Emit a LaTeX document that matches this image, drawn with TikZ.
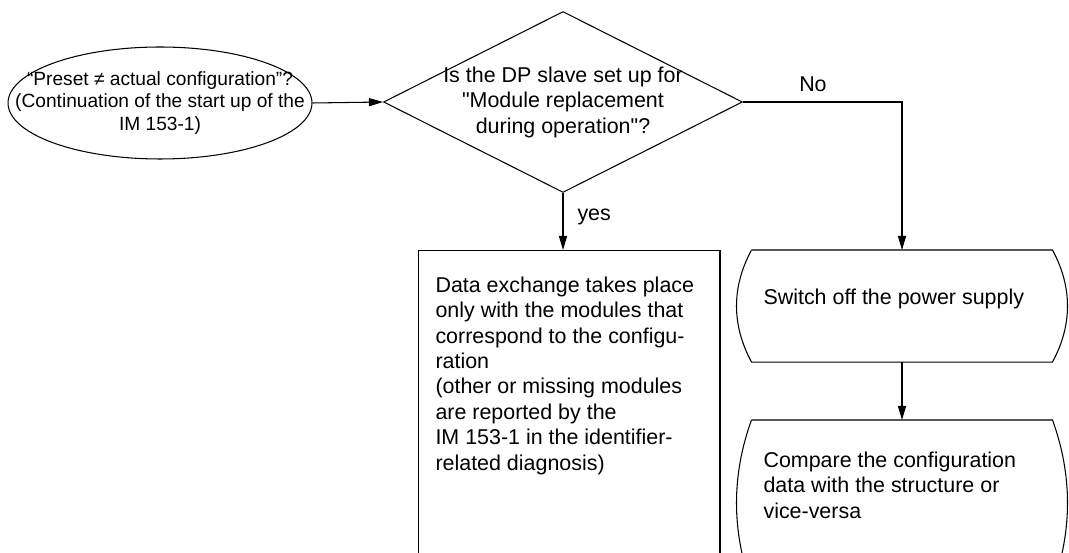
\documentclass[tikz,border=0pt]{standalone}
\usepackage{fontspec}
\setmainfont{Liberation Sans}[Ligatures=TeXOff]
\usetikzlibrary{shapes.geometric,arrows.meta}
\newcommand{\bodysize}{\fontsize{12.2}{14.5}\selectfont}
\newcommand{\ovalsize}{\fontsize{10.9}{13}\selectfont}
\begin{document}
\begin{tikzpicture}[
        x=0.02cm, y=-0.02cm,
        line width=0.6pt,
        txt/.style={inner sep=0pt, font=\bodysize},
        start/.style={draw, ellipse, inner sep=0pt,
                      minimum width=6.08cm, minimum height=2.24cm},
        decision/.style={draw, diamond, inner sep=0pt,
                         minimum width=7.18cm, minimum height=3.62cm},
        box/.style={draw, rectangle, inner sep=0pt, anchor=north,
                    minimum width=6.04cm, minimum height=7.4cm},
        proc/.style={rectangle, inner sep=0pt, anchor=north,
                     minimum width=6.0cm},
        arr/.style={-{Triangle[length=8pt,width=4.6pt]}}
      ]
        \useasboundingbox (0,0) rectangle (1069,553);
        \clip (0,0) rectangle (1069,553);

        \node[start] (preset) at (160,103) {};
        \node[txt, font=\ovalsize, align=center] (presettext) at (preset.center)
          {“Preset ≠ actual configuration”?\\(Continuation of the start up of the\\IM 153-1)};

        \node[decision] (replace) at (563,102) {};
        \node[txt, align=center] (replacetext) at (replace.center)
          {Is the DP slave set up for\\"Module replacement\\during operation"?};

        \node[box] (exchange) at (569,250) {};
        \node[txt, align=left, anchor=north west] (exchangetext) at (435,276)
          {Data exchange takes place\\only with the modules that\\correspond to the configu-\\ration\\(other or missing modules\\are reported by the\\IM 153-1 in the identifier-\\related diagnosis)};

        % sides bulge outwards
        \node[proc, minimum height=2.22cm] (poweroff) at (902,250) {};
        \draw (poweroff.north west) -- (poweroff.north east)
          .. controls +(20,37) and +(20,-37) .. (poweroff.south east)
          -- (poweroff.south west)
          .. controls +(-20,-37) and +(-20,37) .. (poweroff.north west);
        \node[txt, align=left, anchor=north west] (powerofftext) at (763,288)
          {Switch off the power supply};

        \node[proc, minimum height=3.3cm] (compare) at (902,420) {};
        \draw (compare.north west) -- (compare.north east)
          .. controls +(20,55) and +(20,-55) .. (compare.south east)
          -- (compare.south west)
          .. controls +(-20,-55) and +(-20,55) .. (compare.north west);
        \node[txt, align=left, anchor=north west] (comparetext) at (763,451)
          {Compare the configuration\\data with the structure or\\vice-versa};

        \draw[arr] (preset.east) -- (replace.west);
        \draw[arr] (replace.south) -- node[txt, right, xshift=0.28cm, pos=0.42] {yes}
          (replace.south |- exchange.north);
        \draw[arr] (replace.east) -| node[txt, above, yshift=0.2cm, pos=0.22] {No}
          (poweroff.north);
        \draw[arr] (poweroff.south) -- (compare.north);
      \end{tikzpicture}
\end{document}
